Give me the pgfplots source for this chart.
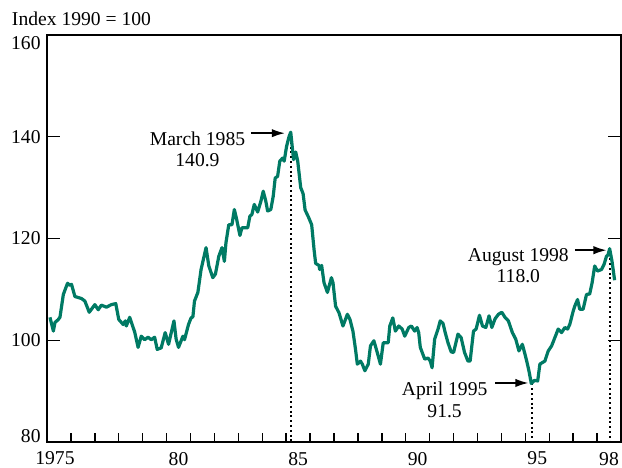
\documentclass[border=0pt]{standalone}
\usepackage{fontspec}
\setmainfont{Liberation Serif}
\usepackage{pgfplots}
\pgfplotsset{compat=1.18}
\usetikzlibrary{arrows.meta}
\definecolor{cline}{HTML}{007A64}

% months since Jan 1975, index (1990 = 100)
\pgfplotstableread{
m v
1.5 104.5
3.2 101.8
4.0 103.5
5.5 104.0
6.5 104.5
8.2 109.0
10.3 111.2
11.5 110.8
12.3 111.0
14.0 108.6
17.3 108.2
19.0 107.7
21.2 105.5
24.0 107.0
25.7 106.0
27.3 106.9
29.8 106.5
32.3 107.0
34.5 107.2
36.0 104.1
38.2 103.1
39.3 103.8
39.8 102.8
41.5 104.5
44.0 101.6
45.7 98.6
47.3 100.8
49.0 100.1
50.7 100.6
52.3 100.1
54.0 100.6
55.3 98.2
57.3 98.5
59.3 101.5
61.0 99.2
63.7 103.8
64.8 100.2
66.0 98.6
68.2 100.8
69.0 100.1
71.0 103.1
72.3 104.4
73.2 104.6
74.0 107.7
75.7 109.4
77.3 113.9
79.8 118.2
81.2 114.6
83.2 112.3
84.5 113.0
86.2 116.5
87.8 118.2
89.0 115.5
89.8 119.2
91.2 122.7
92.8 122.7
94.0 125.7
95.2 123.7
96.8 120.6
97.8 122.1
100.7 122.1
101.8 124.4
102.8 124.7
104.0 126.7
105.7 125.2
107.3 127.3
108.5 129.3
109.8 127.3
110.7 125.4
112.3 125.7
113.5 128.3
114.5 131.9
115.7 132.2
116.8 135.2
118.2 135.8
119.0 135.2
120.2 138.1
121.5 140.1
122.3 140.9
123.7 135.5
124.8 137.0
125.8 135.2
127.3 130.0
128.5 128.8
129.5 125.6
131.2 124.2
132.8 122.7
134.0 117.8
134.8 115.1
136.5 114.7
136.8 113.9
137.8 114.7
139.0 111.3
140.7 109.4
142.7 112.3
143.5 111.3
144.8 106.7
146.5 105.4
148.5 102.8
150.7 105.1
152.0 104.1
153.5 101.8
154.8 98.2
155.7 95.3
157.3 95.9
158.2 95.3
159.5 94.0
161.2 95.3
162.3 98.9
164.0 99.9
165.7 97.6
167.3 95.3
168.7 99.5
171.2 99.5
172.0 102.8
173.5 104.4
174.8 101.8
176.5 102.8
178.2 102.2
179.5 100.8
181.5 102.5
182.8 102.8
184.5 101.8
185.7 102.5
186.5 101.5
187.3 98.6
189.5 96.3
191.2 96.5
192.3 95.9
193.2 94.6
194.5 100.2
196.2 102.2
197.3 103.8
198.7 103.3
199.8 101.5
201.2 99.5
202.8 97.7
204.0 97.6
206.2 101.2
207.8 100.5
209.5 97.6
211.2 95.9
212.3 95.9
214.0 101.8
215.3 102.2
217.0 104.9
218.5 102.8
220.2 102.5
221.8 104.8
223.2 102.5
224.8 104.2
226.5 105.1
228.2 105.5
229.8 104.5
231.5 103.8
233.5 101.5
235.2 100.2
236.8 97.9
238.5 99.2
239.8 97.3
240.7 95.9
241.8 94.0
243.0 91.5
244.5 92.1
246.2 92.0
247.3 95.3
248.5 95.6
249.8 95.9
251.5 97.9
253.2 98.9
254.8 100.5
256.5 102.2
258.2 101.5
259.8 102.5
261.2 102.2
262.3 103.1
264.0 105.7
264.8 106.7
266.2 108.0
267.3 106.1
269.0 106.1
270.7 109.0
272.3 109.1
273.5 111.3
274.8 114.6
276.2 113.6
278.2 113.9
279.5 114.9
280.7 116.5
281.5 116.8
282.3 118.0
283.5 115.5
284.8 111.8
}\indexdata

\begin{document}
\begin{tikzpicture}[font=\fontsize{9.8}{10.6}\selectfont]
\begin{axis}[
  scale only axis, width=287pt, height=203.5pt,
  xmin=0, xmax=288, ymin=80, ymax=160,
  axis line style={line width=0.8pt},
  every tick/.style={black, line width=0.7pt},
  tick align=inside,
  xtick pos=bottom, ytick pos=both,
  xtick={4,66,126,186,246,282},
  xticklabels={1975,80,85,90,95,98},
  major x tick style={draw=none},
  minor xtick={0,12,...,288},
  minor tick length=4.5pt,
  ytick={80,100,...,160},
  yticklabels={,100,120,140,},
  major tick length=6.5pt,
  /pgf/number format/assume math mode=true,
  xticklabel style={inner sep=0pt, anchor=north, yshift=-4.8pt},
  yticklabel style={inner sep=0pt, anchor=east, xshift=-3pt},
  clip=false,
]
% dotted drop lines at the marked months
\addplot[black, line width=0.8pt, dash pattern=on 1pt off 1.4pt] coordinates {(122.3,140.9)(122.3,80)};
\addplot[black, line width=0.8pt, dash pattern=on 1pt off 1.4pt] coordinates {(243.2,91.5)(243.2,80)};
\addplot[black, line width=0.8pt, dash pattern=on 1pt off 1.4pt] coordinates {(282.6,118.0)(282.6,80)};

\addplot[cline, line width=1.6pt, line join=round] table[x=m, y=v] {\indexdata};

% end tick labels, moved inside the box
\node[anchor=north east, inner sep=0pt, xshift=-3pt, yshift=-0.5pt] at (axis cs:0,160) {160};
\node[anchor=south east, inner sep=0pt, xshift=-3pt, yshift=-0.6pt] at (axis cs:0,80) {80};
\node[anchor=base west, inner sep=0pt, xshift=-17.7pt, yshift=5pt] at (rel axis cs:0,1) {Index 1990 = 100};

% annotations
\node[align=center, inner sep=0pt] at (axis cs:75.5,137.5) {March 1985\\140.9};
\draw[-{Latex[length=6.5pt,width=4.2pt]}, line width=0.7pt] (axis cs:102.3,140.7) -- (axis cs:119.3,140.7);
\node[align=center, inner sep=0pt] at (axis cs:199.5,88.3) {April 1995\\91.5};
\draw[-{Latex[length=6.5pt,width=4.2pt]}, line width=0.7pt] (axis cs:224.8,91.6) -- (axis cs:241.5,91.6);
\node[align=center, inner sep=0pt] at (axis cs:236.5,114.6) {August 1998\\118.0};
\draw[-{Latex[length=6.5pt,width=4.2pt]}, line width=0.7pt] (axis cs:264.8,117.7) -- (axis cs:280.7,117.7);
\end{axis}
\pgfresetboundingbox
\path[use as bounding box] ([shift={(-23.5pt,-13pt)}]current axis.south west) rectangle ([shift={(0.5pt,17.5pt)}]current axis.north east);
\end{tikzpicture}
\end{document}
